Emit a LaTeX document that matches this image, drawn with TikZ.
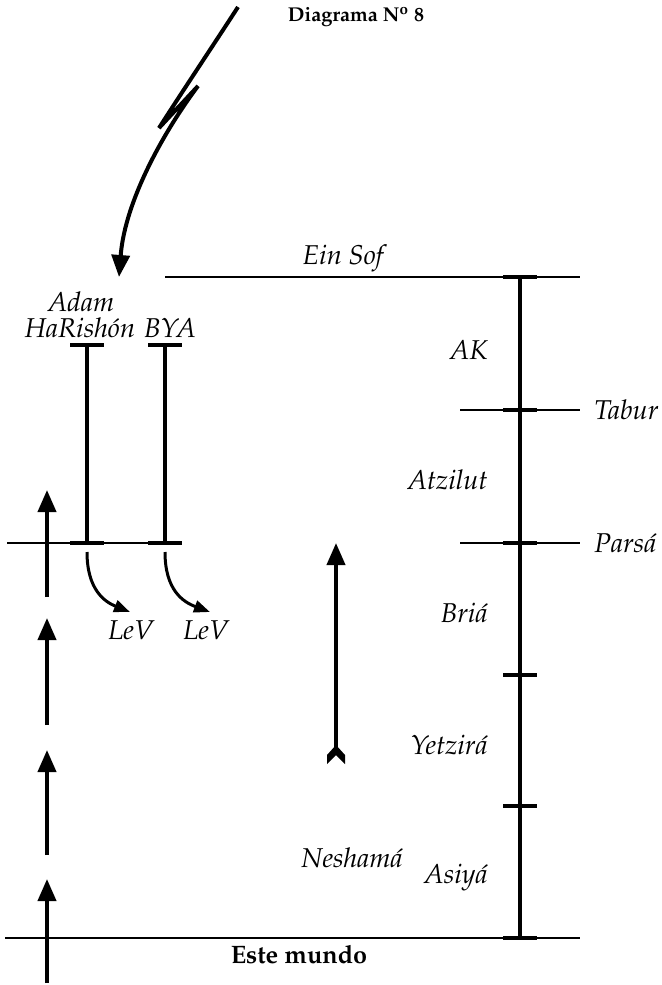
\documentclass[tikz,border=0pt]{standalone}
\usepackage[T1]{fontenc}
\usepackage{mathpazo}
\usetikzlibrary{arrows.meta}
\begin{document}
\begin{tikzpicture}[x=0.5pt, y=-0.5pt,
    every node/.style={font=\fontsize{13.6}{15}\selectfont\itshape, inner sep=1pt},
    rule/.style={line width=0.75pt},
    bar/.style={line width=2pt},
    tick/.style={line width=2.4pt},
    up/.style={line width=2pt, -{Triangle[length=11pt,width=9pt]}},
    lev/.style={line width=1.5pt, -{Triangle[length=8pt,width=6pt]}}]
\useasboundingbox (0,0) rectangle (662,985);
% scale of worlds on the right
\foreach \n/\y in {s0/277, s1/410, s2/543, s3/675, s4/806, s5/938}
  \coordinate (\n) at (520,\y);
\coordinate (einL) at (165,277);  \coordinate (einR) at (580,277);
\coordinate (tabL) at (460,410);  \coordinate (tabR) at (580,410);
\coordinate (parL) at (460,543);  \coordinate (parR) at (580,543);
\coordinate (lefL) at (7,543);    \coordinate (lefR) at (182,543);
\coordinate (munL) at (5,938);    \coordinate (munR) at (580,938);
\draw[rule] (einL) -- (einR);
\draw[rule] (tabL) -- (tabR);
\draw[rule] (parL) -- (parR);
\draw[rule] (lefL) -- (lefR);
\draw[rule] (munL) -- (munR);
\draw[bar] (s0) -- (s5);
\foreach \n in {s0,s1,s2,s3,s4,s5}
  \draw[tick] ([xshift=-8.5pt]\n) -- ([xshift=8.5pt]\n);
% Adam HaRishon and BYA
\foreach \n/\x in {adamT/87, byaT/165}
  \coordinate (\n) at (\x,345);
\foreach \n/\x in {adamB/87, byaB/165}
  \coordinate (\n) at (\x,543);
\draw[bar] (adamT) -- (adamB);
\draw[bar] (byaT) -- (byaB);
\foreach \n in {adamT,adamB,byaT,byaB}
  \draw[tick] ([xshift=-8.5pt]\n) -- ([xshift=8.5pt]\n);
% labels
\node (einsof) at (343,258) {Ein Sof};
\node[anchor=east] (ak) at (490,350) {AK};
\node[anchor=west] (tabur) at (592,410) {Tabur};
\node[anchor=east] (atzilut) at (490,480) {Atzilut};
\node[anchor=west] (parsa) at (592,543) {Pars\'a};
\node[anchor=east] (bria) at (490,613) {Bri\'a};
\node[anchor=east] (yetzira) at (490,745) {Yetzir\'a};
\node[anchor=east] (asiya) at (490,877) {Asiy\'a};
\node (neshama) at (352,858) {Nesham\'a};
\node (adam) at (81,302) {Adam};
\node (harishon) at (80,328) {HaRish\'on};
\node (bya) at (170,328) {BYA};
\node (lev1) at (131,630) {LeV};
\node (lev2) at (206,630) {LeV};
\node[font=\fontsize{12.6}{14}\selectfont\bfseries] (mundo) at (299,955) {Este mundo};
\node[font=\fontsize{10}{12}\selectfont\bfseries] (title) at (356,17) {Diagrama N\textsuperscript{o} 8};
% LeV arrows
\coordinate (lev1s) at (87,552);  \coordinate (lev1e) at (130,612);
\coordinate (lev2s) at (165,552); \coordinate (lev2e) at (210,612);
\draw[lev] (lev1s) .. controls (87,590) and (105,602) .. (lev1e);
\draw[lev] (lev2s) .. controls (165,590) and (183,602) .. (lev2e);
% rising arrows on the left
\foreach \i/\t/\b in {1/490/597, 2/618/725, 3/750/855, 4/879/983}{
  \coordinate (upT\i) at (47,\t);
  \coordinate (upB\i) at (47,\b);
  \draw[up] (upB\i) -- (upT\i);
}
% central arrow, with its feathered tail
\coordinate (midB) at (336,750);
\coordinate (midT) at (336,543);
\draw[up] (midB) -- (midT);
\fill (336,745) -- (345,755) -- (345,764) -- (336,755) -- (327,764) -- (327,755) -- cycle;
% descending arrow from above
\coordinate (zA) at (238,7);
\coordinate (zB) at (159,128);
\coordinate (zC) at (198,86);
\coordinate (zD) at (119,277);
\draw[up, miter limit=3] (zA) .. controls (218,38) and (182,92) .. (zB) -- (zC)
  .. controls (165,130) and (125,200) .. (zD);
\end{tikzpicture}
\end{document}
